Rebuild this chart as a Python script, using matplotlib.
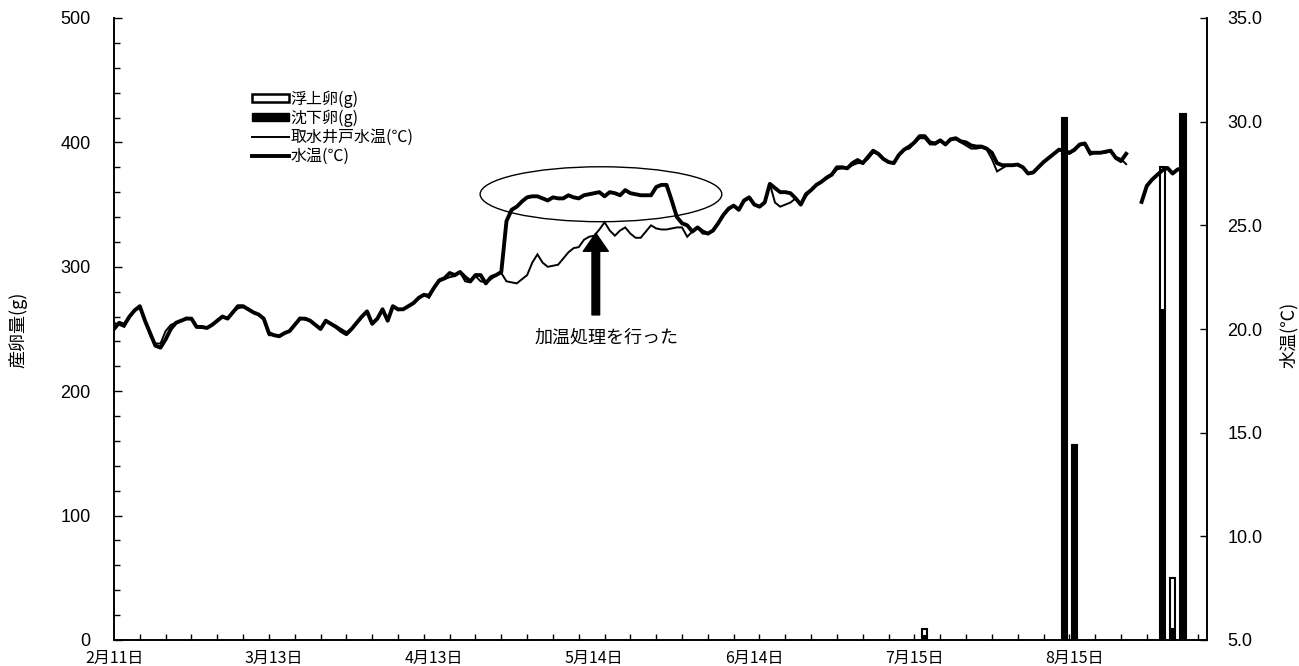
import numpy as np
import matplotlib
matplotlib.use("Agg")
import matplotlib.pyplot as plt
from matplotlib.patches import Ellipse, Patch
from matplotlib.lines import Line2D
from matplotlib.transforms import blended_transform_factory

plt.rcParams['font.family'] = ['Liberation Sans', 'Noto Sans CJK JP']
JP = ['Noto Sans CJK JP']

# ---- data (day index 0 = 2月11日) ----
date_labels = ['2月11日', '3月13日', '4月13日', '5月14日', '6月14日', '7月15日', '8月15日']
date_label_days = [0, 31, 62, 93, 124, 155, 186]

# water temperature in the tanks (℃), daily, day 0 .. 207
tank_temp = [
    20.0, 20.3, 20.2, 20.6, 20.9, 21.1, 20.4, 19.8, 19.2, 19.1,
    19.5, 20.0, 20.3, 20.4, 20.5, 20.5, 20.1, 20.1, 20.05, 20.2,
    20.4, 20.6, 20.5, 20.8, 21.1, 21.1, 20.95, 20.8, 20.7, 20.5,
    19.8, 19.7, 19.65, 19.8, 19.9, 20.2, 20.5, 20.5, 20.4, 20.2,
    20.0, 20.4, 20.25, 20.1, 19.9, 19.75, 20.0, 20.3, 20.6, 20.85,
    20.25, 20.5, 20.95, 20.4, 21.1, 20.95, 20.95, 21.1, 21.25, 21.5,
    21.65, 21.6, 22.0, 22.35, 22.45, 22.7, 22.6, 22.75, 22.5, 22.3,
    22.6, 22.6, 22.2, 22.5, 22.6, 22.75, 25.2, 25.75, 25.9, 26.15,
    26.35, 26.4, 26.4, 26.3, 26.2, 26.35, 26.3, 26.3, 26.45, 26.35,
    26.3, 26.45, 26.5, 26.55, 26.6, 26.4, 26.6, 26.55, 26.45, 26.7,
    26.55, 26.5, 26.45, 26.45, 26.45, 26.85, 26.95, 26.95, 26.2, 25.4,
    25.1, 25.0, 24.7, 24.9, 24.7, 24.6, 24.75, 25.1, 25.5, 25.8,
    25.95, 25.75, 26.2, 26.35, 26.0, 25.9, 26.1, 27.0, 26.8, 26.6,
    26.6, 26.55, 26.3, 26.0, 26.5, 26.7, 26.95, 27.1, 27.3, 27.45,
    27.8, 27.8, 27.75, 28.0, 28.15, 28.0, 28.3, 28.6, 28.45, 28.2,
    28.05, 28.0, 28.4, 28.65, 28.8, 29.0, 29.3, 29.3, 29.0, 28.95,
    29.1, 28.9, 29.15, 29.2, 29.05, 29.0, 28.85, 28.8, 28.8, 28.7,
    28.5, 28.0, 27.9, 27.9, 27.9, 27.93, 27.8, 27.5, 27.55, 27.8,
    28.05, 28.25, 28.45, 28.65, 28.6, 28.5, 28.65, 28.9, 28.95, 28.5,
    28.5, 28.5, 28.55, 28.6, 28.25, 28.1, 28.45, None, None, 26.13,
    26.9, 27.2, 27.43, 27.65, 27.77, 27.5, 27.7, 27.75,
]

# water temperature of the intake well (℃), daily, day 0 .. 207
well_temp = [
    20.3, 20.2, 20.1, 20.6, 20.9, 21.0, 20.4, 19.7, 19.3, 19.3,
    19.9, 20.2, 20.3, 20.4, 20.55, 20.5, 20.1, 20.05, 20.05, 20.2,
    20.4, 20.6, 20.5, 20.8, 21.0, 21.05, 20.95, 20.8, 20.7, 20.5,
    19.7, 19.7, 19.65, 19.8, 19.9, 20.2, 20.55, 20.45, 20.4, 20.2,
    20.0, 20.4, 20.25, 20.15, 20.0, 19.85, 20.0, 20.3, 20.6, 20.85,
    20.25, 20.5, 20.95, 20.4, 21.1, 20.9, 20.95, 21.1, 21.25, 21.5,
    21.65, 21.5, 22.0, 22.3, 22.4, 22.5, 22.55, 22.75, 22.3, 22.25,
    22.55, 22.3, 22.25, 22.4, 22.6, 22.7, 22.3, 22.25, 22.2, 22.4,
    22.6, 23.2, 23.6, 23.2, 23.0, 23.05, 23.1, 23.4, 23.7, 23.9,
    23.95, 24.3, 24.45, 24.5, 24.8, 25.15, 24.75, 24.5, 24.75, 24.9,
    24.6, 24.4, 24.4, 24.7, 25.0, 24.85, 24.8, 24.8, 24.85, 24.9,
    24.9, 24.45, 24.7, 24.9, 24.6, 24.6, 24.75, 25.1, 25.5, 25.8,
    25.95, 25.75, 26.15, 26.3, 26.0, 25.9, 26.1, 27.0, 26.1, 25.9,
    26.0, 26.1, 26.3, 26.0, 26.4, 26.7, 26.95, 27.1, 27.25, 27.4,
    27.7, 27.75, 27.75, 27.9, 28.0, 28.0, 28.2, 28.5, 28.45, 28.2,
    28.05, 28.0, 28.4, 28.65, 28.7, 28.95, 29.2, 29.2, 28.9, 28.9,
    29.05, 28.9, 29.1, 29.15, 29.0, 28.85, 28.7, 28.7, 28.75, 28.65,
    28.2, 27.6, 27.75, 27.9, 27.9, 27.93, 27.8, 27.5, 27.55, 27.8,
    28.05, 28.25, 28.45, 28.65, 28.6, 28.45, 28.6, 28.85, 28.9, 28.4,
    28.5, 28.5, 28.5, 28.6, 28.3, 28.2, 27.95, None, None, 26.13,
    26.9, 27.2, 27.43, 27.65, 27.77, 27.5, 27.7, 27.75,
]

# spawned eggs (g)
egg_days = [157, 184, 186, 203, 205, 207]
sinking_eggs = [3.5, 420, 157, 265, 9, 423]
floating_eggs = [5, 0, 0, 115, 41, 0]

# ---- figure ----
fig = plt.figure(figsize=(12.99, 6.66), dpi=100)
ax = fig.add_axes([114 / 1299, 26 / 666, 1092.7 / 1299, 622 / 666])
ax2 = ax.twinx()

days = np.arange(len(tank_temp))
tank = np.array(tank_temp, dtype=float)
well = np.array(well_temp, dtype=float)

ax.bar(egg_days, sinking_eggs, width=1.0, color='black', edgecolor='black',
       linewidth=1.5, zorder=2)
ax.bar(egg_days, floating_eggs, bottom=sinking_eggs, width=1.0, color='white',
       edgecolor='black', linewidth=1.5, zorder=2)

ax2.plot(days, well, color='black', lw=1.4, solid_joinstyle='miter', zorder=3)
ax2.plot(days, tank, color='black', lw=2.8, solid_joinstyle='round', zorder=4)

# axes ranges and ticks
ax.set_xlim(0, 211.6)
ax.set_ylim(0, 500)
ax2.set_ylim(5, 35)

ax.set_xticks(np.arange(5, 211, 5))
ax.tick_params(axis='x', which='major', direction='in', length=4, width=1,
               labelbottom=False)
xlab_tr = blended_transform_factory(ax.transData, ax.transAxes)
for d, lab in zip(date_label_days, date_labels):
    ax.text(d, -0.029, lab, transform=xlab_tr, ha='center', va='center',
            fontsize=11.5, fontfamily=JP)

ax.set_yticks(np.arange(0, 501, 100))
ax.set_yticks(np.arange(0, 501, 20), minor=True)
ax.tick_params(axis='y', which='major', direction='in', length=6, width=1,
               labelsize=13, pad=17)
ax.tick_params(axis='y', which='minor', direction='in', length=4, width=1)

ax2.set_yticks(np.arange(5, 36, 5))
ax2.set_yticklabels([f'{v:.1f}' for v in np.arange(5, 36, 5)])
ax2.tick_params(axis='y', direction='in', length=5, width=1, labelsize=13,
                pad=15)

for a in (ax, ax2):
    a.spines['top'].set_visible(False)
    for s in ('left', 'right', 'bottom'):
        a.spines[s].set_linewidth(1.2)

fig.text(18 / 1299, 1 - 330 / 666, '産卵量(g)', rotation=90, ha='center',
         va='center', fontsize=13, fontfamily=JP)
fig.text(1289 / 1299, 1 - 335 / 666, '水温(℃)', rotation=90, ha='center',
         va='center', fontsize=13, fontfamily=JP)

# heated period annotation
ax2.add_patch(Ellipse((94.3, 26.5), 46.8, 2.65, fill=False, lw=1.0,
                      edgecolor='black', zorder=5))
ax2.annotate('', xy=(93.3, 24.62), xytext=(93.3, 20.68),
             arrowprops=dict(width=5.5, headwidth=18, headlength=13,
                             shrink=0, color='black'), zorder=6)
ax2.text(95.4, 19.57, '加温処理を行った', ha='center', va='center',
         fontsize=13, fontfamily=JP)

# legend
handles = [
    Patch(facecolor='white', edgecolor='black', linewidth=1.8),
    Patch(facecolor='black', edgecolor='black'),
    Line2D([], [], color='black', lw=1.4),
    Line2D([], [], color='black', lw=2.8),
]
labels = ['浮上卵(g)', '沈下卵(g)', '取水井戸水温(℃)', '水温(℃)']
ax.legend(handles, labels, loc='upper left', bbox_to_anchor=(0.126, 0.884),
          frameon=False, handlelength=2.35, handleheight=0.45,
          handletextpad=0.1, labelspacing=0.12, borderpad=0, borderaxespad=0,
          prop={'family': JP, 'size': 11.5})

fig.savefig('out.png', dpi=100)
